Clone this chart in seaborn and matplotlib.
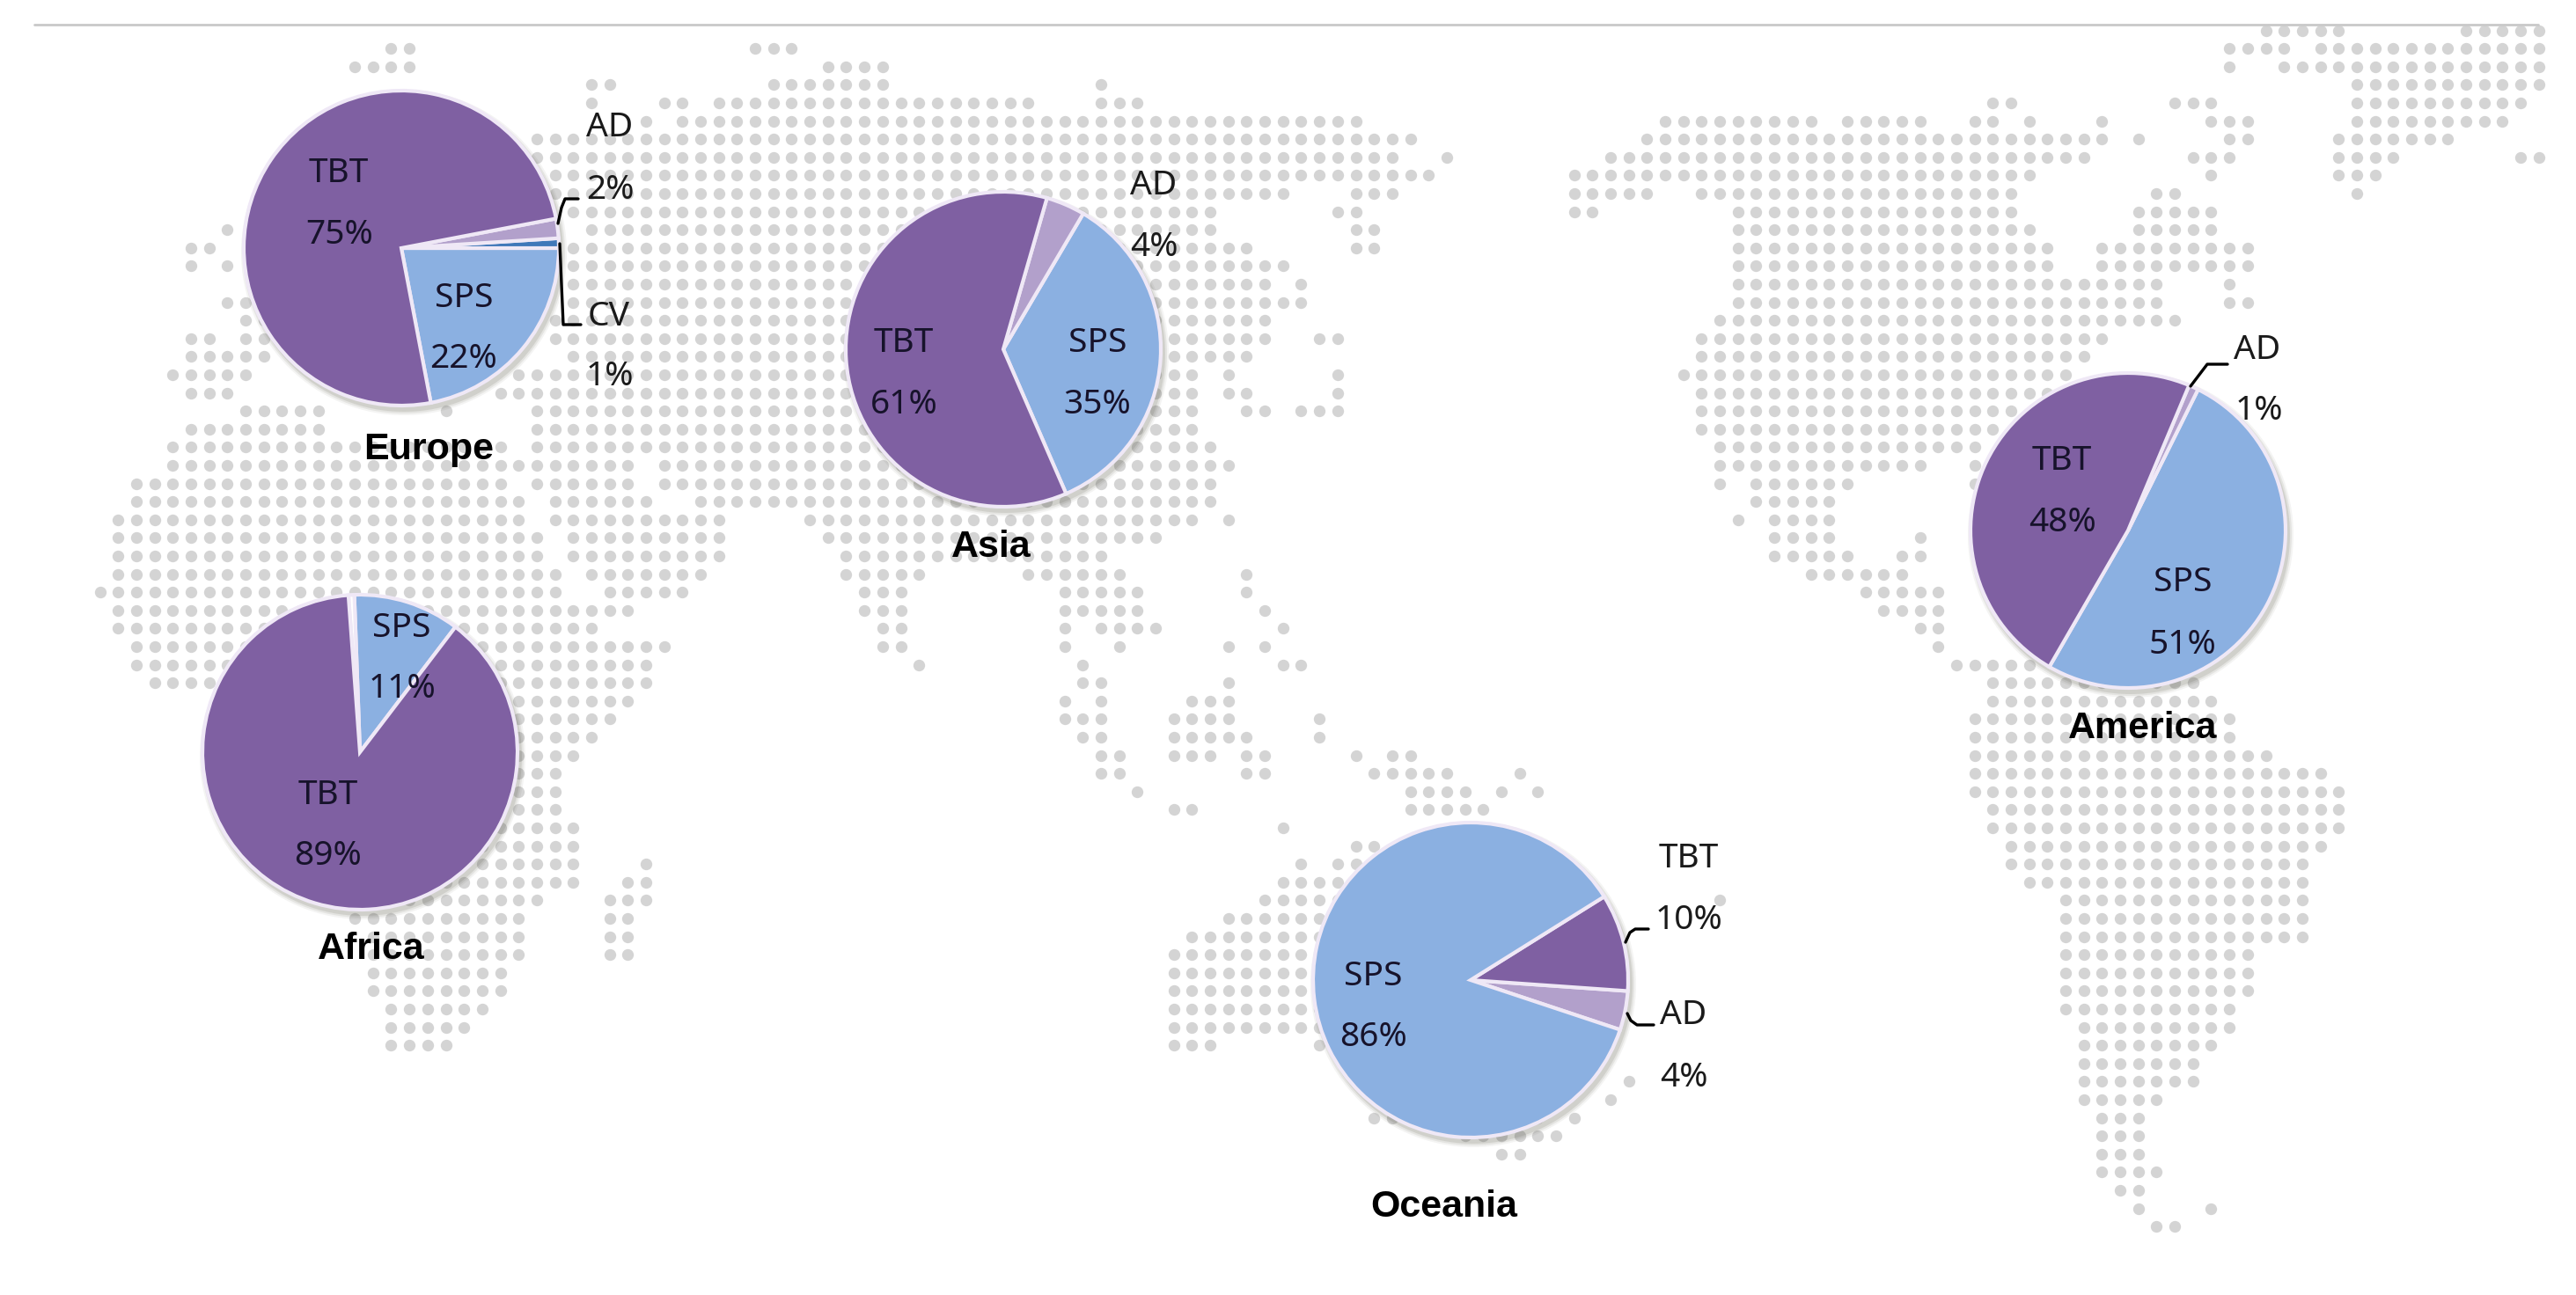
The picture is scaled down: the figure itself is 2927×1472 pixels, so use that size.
import pandas as pd
import seaborn as sns
import matplotlib.pyplot as plt
from matplotlib.patches import Circle

W, H = 2927, 1472

# pie values
europe_labels = ['SPS', 'CV', 'AD', 'TBT']
europe_values = [22, 1, 2, 75]
asia_labels = ['SPS', 'AD', 'TBT']
asia_values = [35, 4, 61]
africa_labels = ['SPS', '', 'TBT']
africa_values = [11, 0.6, 89]
america_labels = ['SPS', 'AD', 'TBT']
america_values = [51, 1, 48]
oceania_labels = ['AD', 'TBT', 'SPS']
oceania_values = [4, 10, 86]

# dot map, row number -> runs of dot columns
map_rows = {
    0: [(124, 128), (135, 139)],
    1: [(21, 22), (41, 43), (122, 125), (127, 139)],
    2: [(19, 22), (45, 48), (122, 122), (125, 139)],
    3: [(32, 33), (42, 48), (60, 60), (129, 139)],
    4: [(32, 32), (36, 37), (39, 56), (60, 62), (109, 110), (119, 121), (129, 138)],
    5: [(35, 35), (37, 74), (91, 99), (101, 105), (108, 109), (111, 111), (115, 115), (121, 123), (129, 137)],
    6: [(29, 77), (90, 115), (117, 117), (122, 123), (128, 134)],
    7: [(29, 76), (79, 79), (88, 114), (120, 122), (128, 131), (138, 139)],
    8: [(30, 78), (86, 111), (121, 121), (128, 130)],
    9: [(30, 70), (74, 76), (86, 90), (93, 110), (118, 119), (129, 129)],
    10: [(31, 66), (73, 74), (86, 87), (95, 110), (117, 121)],
    11: [(12, 12), (32, 66), (74, 75), (95, 111), (117, 121)],
    12: [(10, 11), (31, 68), (74, 75), (95, 112), (115, 123)],
    13: [(10, 10), (12, 12), (31, 70), (95, 112), (115, 123)],
    14: [(31, 69), (71, 71), (95, 118), (122, 122)],
    15: [(12, 13), (31, 71), (95, 118), (122, 123)],
    16: [(13, 14), (30, 69), (94, 119)],
    17: [(10, 11), (13, 14), (30, 69), (72, 73), (93, 115)],
    18: [(10, 14), (31, 68), (93, 114)],
    19: [(9, 13), (28, 65), (67, 67), (73, 73), (92, 113)],
    20: [(10, 12), (27, 65), (67, 68), (73, 73), (93, 113)],
    21: [(13, 17), (24, 24), (29, 65), (68, 69), (71, 73), (93, 110)],
    22: [(10, 17), (29, 65), (93, 109)],
    23: [(9, 27), (29, 66), (94, 108)],
    24: [(9, 34), (36, 67), (94, 105), (108, 108)],
    25: [(7, 27), (29, 34), (36, 66), (94, 94), (96, 101), (108, 108)],
    26: [(7, 28), (30, 35), (38, 66), (96, 100)],
    27: [(6, 28), (30, 39), (44, 65), (67, 67), (95, 95), (97, 100)],
    28: [(6, 29), (31, 39), (45, 63), (97, 100), (105, 105)],
    29: [(6, 29), (31, 39), (46, 60), (97, 101), (104, 105)],
    30: [(6, 30), (32, 38), (46, 50), (56, 61), (68, 68), (99, 104)],
    31: [(5, 30), (33, 37), (47, 49), (58, 62), (68, 68), (102, 106)],
    32: [(6, 34), (47, 49), (58, 62), (69, 69), (103, 106)],
    33: [(6, 32), (48, 49), (58, 58), (60, 63), (70, 70), (105, 106)],
    34: [(7, 36), (48, 49), (58, 58), (61, 61), (67, 67), (69, 69), (106, 106)],
    35: [(7, 35), (50, 50), (59, 59), (70, 71), (107, 111)],
    36: [(8, 35), (59, 60), (67, 67), (109, 120)],
    37: [(14, 34), (58, 58), (60, 60), (65, 67), (109, 121)],
    38: [(14, 33), (58, 60), (64, 67), (72, 72), (108, 122)],
    39: [(14, 32), (59, 60), (64, 68), (72, 72), (108, 122)],
    40: [(14, 31), (60, 61), (64, 66), (68, 69), (74, 74), (76, 77), (108, 124)],
    41: [(14, 30), (60, 61), (68, 69), (75, 79), (83, 83), (108, 127)],
    42: [(14, 30), (62, 62), (77, 80), (82, 82), (84, 84), (108, 128)],
    43: [(15, 30), (64, 65), (77, 81), (109, 128)],
    44: [(15, 31), (70, 70), (109, 128)],
    45: [(16, 31), (74, 75), (110, 127)],
    46: [(17, 31), (35, 35), (71, 71), (73, 78), (110, 126)],
    47: [(18, 31), (34, 35), (70, 80), (111, 126)],
    48: [(19, 29), (33, 35), (69, 82), (94, 94), (113, 126)],
    49: [(19, 28), (33, 34), (67, 84), (113, 126)],
    50: [(20, 28), (33, 34), (65, 85), (113, 126)],
    51: [(20, 28), (33, 34), (64, 86), (113, 123)],
    52: [(20, 27), (64, 87), (113, 123)],
    53: [(20, 27), (64, 87), (113, 123)],
    54: [(21, 26), (64, 87), (113, 122)],
    55: [(21, 25), (64, 87), (114, 122)],
    56: [(21, 24), (64, 66), (72, 87), (114, 121)],
    57: [(74, 87), (114, 120)],
    58: [(75, 86), (89, 89), (114, 120)],
    59: [(76, 85), (88, 88), (114, 118)],
    60: [(75, 84), (86, 86), (115, 117)],
    61: [(80, 85), (115, 117)],
    62: [(82, 83), (115, 117)],
    63: [(115, 118)],
    64: [(116, 117)],
    65: [(117, 117), (121, 121)],
    66: [(118, 119)],
}

tbt_color = '#7F60A2'
sps_color = '#8BB0E1'
ad_color = '#B2A0CB'
cv_color = '#3F78B9'
colors = {'TBT': tbt_color, 'SPS': sps_color, 'AD': ad_color, 'CV': cv_color, '': 'white'}

sns.set_theme(style='white')
plt.rcParams['font.family'] = ['Noto Sans', 'DejaVu Sans']

dot_cols = []
dot_rows = []
for r, runs in map_rows.items():
    for a, b in runs:
        for c in range(a, b + 1):
            dot_cols.append(c)
            dot_rows.append(r)
dots = pd.DataFrame({'col': dot_cols, 'row': dot_rows})

fig = plt.figure(figsize=(W / 100, H / 100), dpi=100, facecolor='white')

# dots live on their own grid axes
ax = fig.add_axes([0, 0, 1, 1])
sns.scatterplot(data=dots, x='col', y='row', color='#D4D4D4', s=92, linewidth=0, ax=ax, legend=False)
dx, dy = 20.68, 20.6
ax.set_xlim(-10.2 / dx, (W - 10.2) / dx)
ax.set_ylim((H - 34.5) / dy, -34.5 / dy)
ax.axis('off')

# overlay in image pixels, y going up
ov = fig.add_axes([0, 0, 1, 1], facecolor='none')


def py(y):
    return H - y


def draw_pie(cx, cy, labels, values, start):
    r = 179
    # soft shadow
    for grow, alpha in [(6, 0.06), (4, 0.09), (2, 0.12)]:
        ov.add_patch(Circle((cx + 3, py(cy) - 5), r + grow, fc='#444433', ec='none', alpha=alpha))
    ov.pie(values, colors=[colors[l] for l in labels], center=(cx, py(cy)), radius=r,
           startangle=start, counterclock=True, frame=True,
           wedgeprops={'edgecolor': '#EFE8F6', 'linewidth': 3})


def label(x, y, txt, dark=False):
    ov.text(x, py(y + 4), txt, ha='center', va='center', fontsize=28,
            color='#17132B' if dark else '#1A1A1A')


def region(x, y, txt):
    ov.text(x, py(y + 4), txt, ha='center', va='center', fontsize=31, fontweight='bold',
            family='Liberation Sans', color='black')


def leader(xs, ys):
    ov.plot(xs, [py(v) for v in ys], color='black', lw=2.4, solid_joinstyle='round')


draw_pie(456, 282, europe_labels, europe_values, -79.2)
draw_pie(1140, 397, asia_labels, asia_values, -66.5)
draw_pie(409, 855, africa_labels, africa_values, 52.7)
draw_pie(2418, 603, america_labels, america_values, -120)
draw_pie(1671, 1114, oceania_labels, oceania_values, -18.4)

label(385, 193, 'TBT', True)
label(386, 263, f'{europe_values[3]}%', True)
label(527, 335, 'SPS', True)
label(527, 404, f'{europe_values[0]}%', True)
label(693, 141, 'AD')
label(693, 212, f'{europe_values[2]}%')
label(692, 356, 'CV')
label(693, 424, f'{europe_values[1]}%')
region(487, 507, 'Europe')
leader([634, 638, 642, 657], [254, 236, 226, 226])
leader([636, 640, 660], [277, 369, 369])

label(1027, 386, 'TBT', True)
label(1027, 456, f'{asia_values[2]}%', True)
label(1247, 386, 'SPS', True)
label(1247, 456, f'{asia_values[0]}%', True)
label(1311, 207, 'AD')
label(1311, 277, f'{asia_values[1]}%')
region(1126, 618, 'Asia')

label(456, 710, 'SPS', True)
label(457, 779, f'{africa_values[0]}%', True)
label(373, 900, 'TBT', True)
label(373, 969, f'{africa_values[2]}%', True)
region(422, 1075, 'Africa')

label(2565, 394, 'AD')
label(2567, 463, f'{america_values[1]}%')
label(2343, 520, 'TBT', True)
label(2344, 590, f'{america_values[2]}%', True)
label(2480, 658, 'SPS', True)
label(2480, 729, f'{america_values[0]}%', True)
region(2435, 824, 'America')
leader([2489, 2508, 2531], [439, 414, 414])

label(1919, 972, 'TBT')
label(1919, 1042, f'{oceania_values[1]}%')
label(1913, 1150, 'AD')
label(1913, 1221, f'{oceania_values[0]}%')
label(1560, 1106, 'SPS', True)
label(1560, 1175, f'{oceania_values[2]}%', True)
region(1641, 1368, 'Oceania')
leader([1847, 1852, 1858, 1873], [1071, 1060, 1056, 1056])
leader([1849, 1853, 1860, 1879], [1152, 1160, 1165, 1165])

# rule across the top
ov.plot([39, 2884], [py(27.5), py(27.5)], color='#C9C9C9', lw=2)

ov.set_xlim(0, W)
ov.set_ylim(0, H)
ov.set_aspect('auto')
ov.axis('off')

plt.savefig('out.png', dpi=100)
